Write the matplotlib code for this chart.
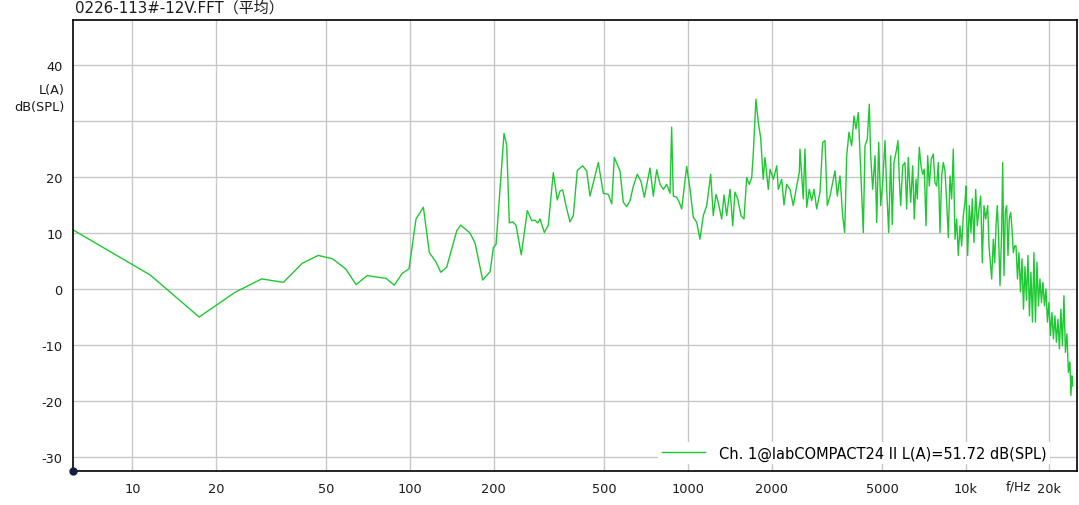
import matplotlib
matplotlib.use("Agg")
import matplotlib.pyplot as plt

# FFT spectrum (Hz, dB(SPL) A-weighted)
low_f = [6.1, 11.6, 17.4, 23.4, 29.2, 35.0, 40.9, 46.7, 52.6, 58.6,
         63.9, 70.1, 81.9, 87.7, 93.7, 99.1, 105.0, 111.6, 117.3, 123.7,
         128.9, 135.4, 147.2, 152.1, 164.3, 171.3, 182.5, 194.0, 199.4, 203.9,
         217.8, 222.7, 227.6, 234.1, 240.5, 251.3, 264.2, 274.0, 281.6, 288.0,
         293.5, 304.2, 314.4, 327.7, 338.8, 346.4, 354.2, 364.0, 376.3, 386.8,
         399.8, 418.1, 432.2, 444.2, 463.0, 475.9, 496.0, 517.0, 531.8, 543.3,
         569.6, 585.5, 602.2, 619.0, 636.2, 657.6, 678.1, 696.9, 730.5, 750.8]
low_db = [10.6, 2.5, -5.0, -0.6, 1.8, 1.2, 4.6, 6.0, 5.4, 3.6,
          0.8, 2.4, 1.9, 0.7, 2.8, 3.6, 12.5, 14.6, 6.5, 4.9,
          3.0, 3.9, 10.4, 11.4, 10.0, 8.2, 1.6, 3.1, 7.4, 8.0,
          27.8, 25.7, 11.8, 12.0, 11.4, 6.1, 14.0, 12.2, 12.3, 11.8,
          12.5, 10.1, 11.4, 20.8, 15.9, 17.5, 17.7, 14.9, 12.0, 13.1,
          21.2, 22.0, 21.1, 16.6, 20.2, 22.6, 17.1, 16.9, 15.2, 23.5,
          21.1, 15.5, 14.7, 15.8, 18.4, 20.5, 19.2, 16.4, 21.6, 16.6]

mid_f = [772, 794, 816, 839, 862, 874, 886, 911, 931, 950,
         968, 990, 1018, 1046, 1076, 1105, 1136, 1169, 1208, 1234,
         1262, 1286, 1323, 1349, 1379, 1418, 1450, 1477, 1511, 1553,
         1592, 1628, 1663, 1697, 1720, 1758, 1792, 1828, 1867, 1894,
         1947, 1975, 2030, 2088, 2116, 2176, 2218, 2268, 2331, 2395,
         2464, 2518, 2532, 2602, 2639, 2677, 2735, 2790, 2844, 2908,
         2989, 3056, 3115, 3175, 3247, 3320, 3384, 3450, 3528, 3607,
         3668, 3729, 3801, 3887, 3962, 4028, 4106, 4188, 4280, 4340]
mid_db = [21.3, 18.7, 17.8, 18.7, 17.1, 28.9, 16.6, 16.4, 15.5, 14.3,
          17.8, 21.9, 17.8, 12.8, 11.9, 8.9, 13.1, 14.9, 20.5, 13.1,
          16.9, 15.5, 12.5, 16.8, 13.1, 17.8, 11.3, 17.3, 16.1, 13.1,
          12.5, 19.9, 18.7, 19.9, 24.4, 33.9, 29.8, 27.0, 19.6, 23.5,
          17.8, 21.4, 19.6, 22.0, 17.8, 19.6, 15.0, 18.7, 17.8, 14.9,
          18.4, 20.8, 25.0, 16.1, 25.0, 14.6, 17.8, 15.8, 17.8, 14.3,
          17.3, 26.2, 26.5, 14.9, 16.6, 19.0, 21.1, 16.6, 20.2, 13.1,
          10.1, 23.8, 28.0, 25.6, 30.9, 28.6, 31.5, 21.4, 10.1, 25.6]

high_f = [4424, 4498, 4550, 4626, 4716, 4782, 4862, 4943, 5026, 5123,
          5195, 5282, 5370, 5440, 5519, 5643, 5704, 5768, 5834, 5932,
          6046, 6131, 6213, 6339, 6445, 6531, 6624, 6696, 6808, 6904,
          7002, 7096, 7196, 7298, 7396, 7520, 7645, 7754, 7863, 7969,
          8082, 8196, 8307, 8424, 8543, 8658, 8780, 8904, 9024, 9152,
          9280, 9405, 9537, 9672, 9804, 9942, 10023, 10166, 10302, 10447,
          10561, 10712, 10864, 11010, 11166, 11324, 11476, 11638, 11803, 12000,
          12131]
high_db = [26.8, 33.0, 23.8, 17.8, 23.8, 11.9, 26.2, 14.9, 19.0, 26.5,
           17.8, 10.1, 23.8, 11.5, 22.6, 25.0, 26.5, 19.6, 14.9, 22.0,
           22.6, 14.3, 23.5, 15.5, 22.0, 12.5, 19.6, 16.1, 25.3, 22.0,
           20.5, 21.4, 11.3, 23.8, 18.4, 23.2, 24.1, 19.0, 18.4, 22.6,
           10.1, 20.2, 22.6, 21.1, 15.5, 9.2, 20.2, 16.1, 25.0, 8.9,
           12.5, 6.0, 11.3, 7.7, 13.1, 15.5, 18.4, 6.0, 14.9, 10.1,
           16.1, 8.3, 17.8, 11.3, 14.3, 16.6, 4.7, 14.9, 12.5, 14.9,
           7.7]

tail_f = [12405, 12572, 12718, 12857, 12996, 13146, 13290, 13477, 13590, 13737,
          13887, 14047, 14199, 14354, 14521, 14679, 14839, 15010, 15174, 15364,
          15555, 15750, 15946, 16144, 16346, 16549, 16756, 16966, 17178, 17393,
          17610, 17830, 18053, 18279, 18507, 18738, 18973, 19210, 19450, 19693,
          19939, 20188, 20440, 20696, 20955, 21217, 21482, 21750, 22022, 22297,
          22576, 22858, 23144, 23433, 23726, 23923, 24121, 24274]
tail_db = [1.8, 8.9, 4.7, 11.3, 14.9, 8.9, 0.6, 10.7, 22.6, 2.4,
           13.7, 14.9, 6.0, 12.5, 13.7, 10.7, 6.5, 7.7, 7.7, 1.8,
           6.5, -0.5, 5.4, -3.6, 4.0, -2.0, 6.0, -4.8, 3.0, -5.9,
           6.5, -5.9, 4.8, -3.0, 1.8, -2.4, 1.2, -3.0, 0.0, -5.9,
           -2.4, -8.3, -4.2, -8.9, -4.8, -9.5, -5.4, -10.7, -3.6, -10.1,
           -1.2, -11.3, -8.0, -14.9, -13.0, -19.0, -15.5, -17.3]

freq_hz = low_f + mid_f + high_f + tail_f
level_db = low_db + mid_db + high_db + tail_db

x_ticks = [10, 20, 50, 100, 200, 500, 1000, 2000, 5000, 10000, 20000]
x_labels = ["10", "20", "50", "100", "200", "500", "1000", "2000", "5000", "10k", "20k"]
y_ticks = [-30, -20, -10, 0, 10, 20, 30, 40]
y_labels = ["-30", "-20", "-10", "0", "10", "20", "", "40"]

title = "0226-113#-12V.FFT（平均）"
legend_label = "Ch. 1@labCOMPACT24 II L(A)=51.72 dB(SPL)"

plt.rcParams['font.family'] = ['DejaVu Sans', 'Noto Sans CJK SC']
fs = 9.3

W, H = 1079, 506
fig = plt.figure(figsize=(W / 100, H / 100), dpi=100)
ax = fig.add_axes([72.5 / W, 34 / H, 1004.5 / W, 451.3 / H])

ax.plot(freq_hz, level_db, color='#1ec832', lw=1.0, label=legend_label)
ax.set_xscale('log')
ax.set_xlim(6.09, 25160)
ax.set_ylim(-32.5, 48.1)

ax.set_xticks(x_ticks)
ax.set_xticklabels(x_labels)
ax.minorticks_off()
ax.set_yticks(y_ticks)
ax.set_yticklabels(y_labels)
ax.tick_params(axis='both', length=0, labelsize=fs, colors='#1a1a1a')
ax.tick_params(axis='x', pad=8)
ax.tick_params(axis='y', pad=7)
ax.grid(True, color='#c8c8c8', lw=1.0)
ax.set_axisbelow(True)
for s in ax.spines.values():
    s.set_color('black')
    s.set_linewidth(1.2)

# origin marker
ax.plot([6.09], [-32.5], 'o', color='#14203a', ms=5, clip_on=False, zorder=6)

leg = ax.legend(loc='center right', bbox_to_anchor=(0.973, 0.040), frameon=True,
                fancybox=False, edgecolor='none', facecolor='white', framealpha=1,
                borderpad=0.25, borderaxespad=0, handlelength=3.0, handletextpad=0.9,
                fontsize=10.5)

fig.text(75 / W, 1 - 8 / H, title, ha='left', va='center', fontsize=10.8, color='#1a1a1a')
fig.text(65 / W, 1 - 91 / H, "L(A)", ha='right', va='center', fontsize=fs, color='#1a1a1a')
fig.text(65 / W, 1 - 108 / H, "dB(SPL)", ha='right', va='center', fontsize=fs, color='#1a1a1a')
fig.text(1018 / W, 1 - 487 / H, "f/Hz", ha='center', va='center', fontsize=fs, color='#1a1a1a')

fig.savefig('out.png', dpi=100)
